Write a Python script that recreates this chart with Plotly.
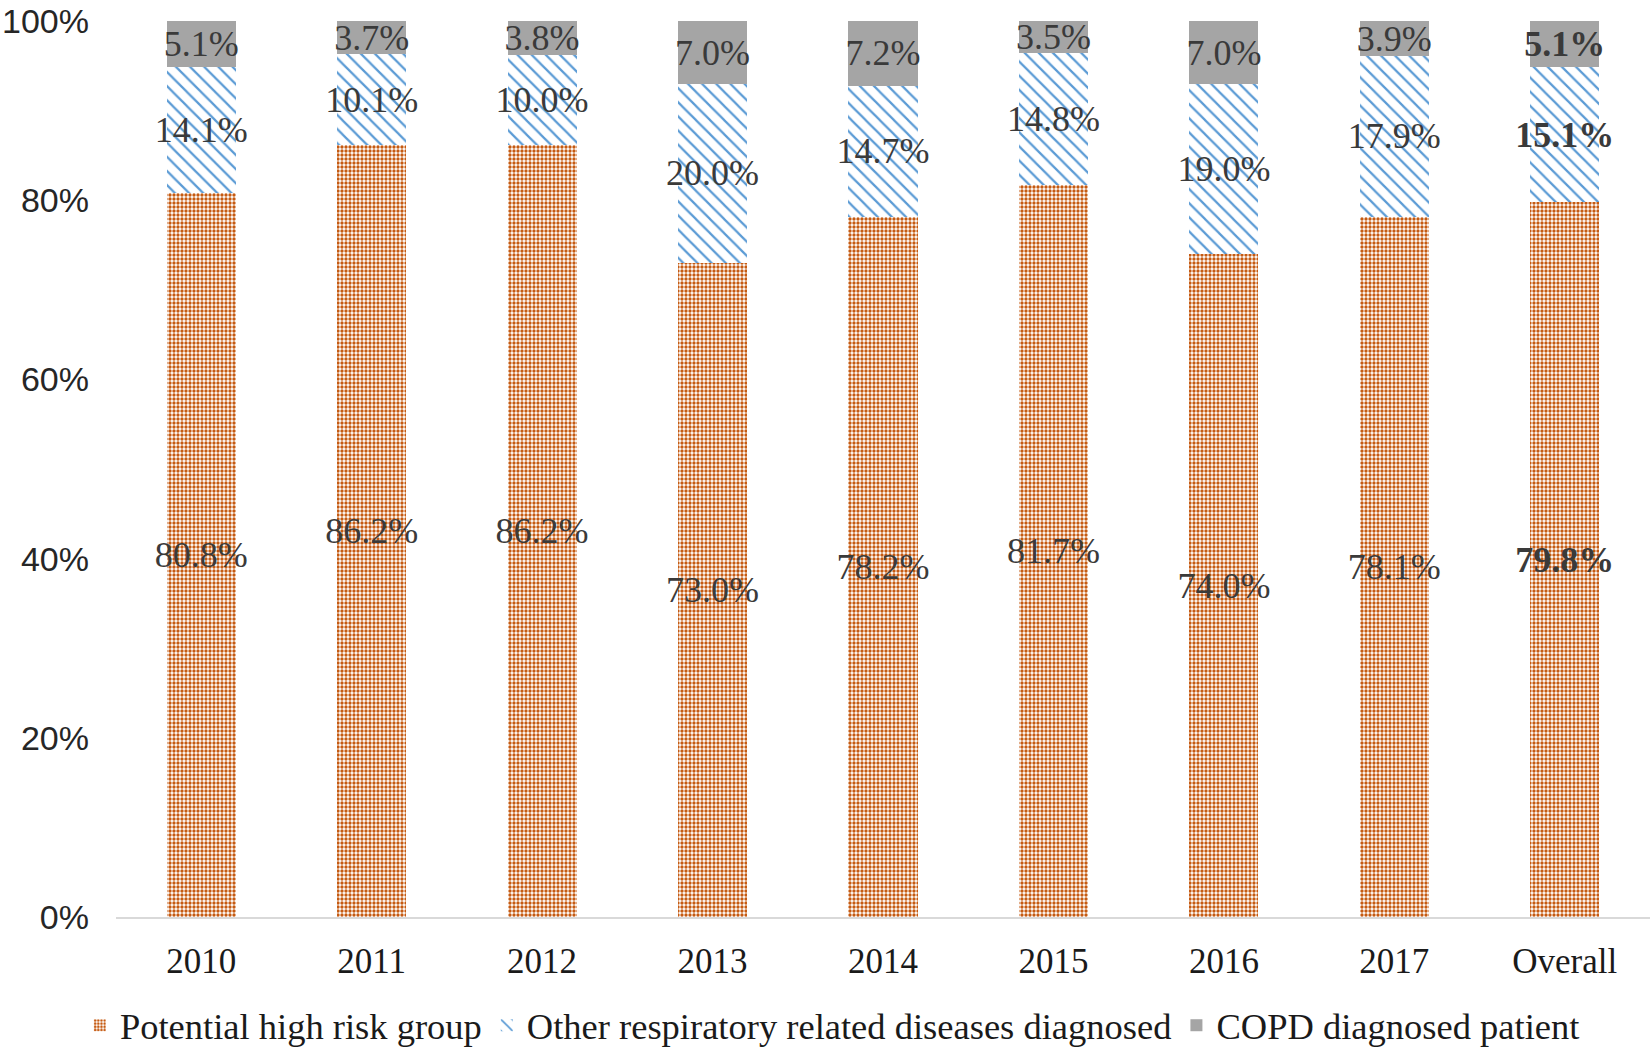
import plotly.graph_objects as go

categories = ["2010", "2011", "2012", "2013", "2014", "2015", "2016", "2017", "Overall"]
high_risk = [80.8, 86.2, 86.2, 73.0, 78.2, 81.7, 74.0, 78.1, 79.8]
other_resp = [14.1, 10.1, 10.0, 20.0, 14.7, 14.8, 19.0, 17.9, 15.1]
copd = [5.1, 3.7, 3.8, 7.0, 7.2, 3.5, 7.0, 3.9, 5.1]
y_ticks = [0, 20, 40, 60, 80, 100]
y_tick_labels = ["0%", "20%", "40%", "60%", "80%", "100%"]

series = [
    ("Potential high risk group", high_risk,
     dict(color="white", pattern=dict(shape=".", fgcolor="#C55A11", bgcolor="white", size=4,
                                       solidity=0.55, fgopacity=1, fillmode="replace"))),
    ("Other respiratory related diseases diagnosed", other_resp,
     dict(color="white", pattern=dict(shape="\\", fgcolor="#5B9BD5", bgcolor="white", size=10,
                                       solidity=0.22, fgopacity=1, fillmode="replace"))),
    ("COPD diagnosed patient", copd, dict(color="#A5A5A5")),
]

fig = go.Figure()
for name, vals, marker in series:
    texts = []
    for c, v in zip(categories, vals):
        s = f"{v:.1f}%"
        texts.append(f"<b>{s}</b>" if c == "Overall" else s)
    fig.add_trace(go.Bar(
        name=name, x=categories, y=vals, marker=marker, marker_line_width=0,
        text=texts, texttemplate="%{text}", textposition="inside", insidetextanchor="middle",
        textangle=0, constraintext="none",
        textfont=dict(family="Liberation Serif", size=36, color="#3a3a3a"),
        hoverinfo="skip",
    ))

fig.update_layout(
    width=1652, height=1056,
    barmode="stack", barnorm="percent", bargap=0.595,
    paper_bgcolor="white", plot_bgcolor="white",
    margin=dict(l=115, r=2, t=12, b=139),
    showlegend=True,
    legend=dict(orientation="h", x=0.467, xanchor="center", xref="paper",
                y=-0.009, yanchor="bottom", yref="container",
                traceorder="normal",
                font=dict(family="Liberation Serif", size=36.5, color="#1a1a1a"),
                itemwidth=30, tracegroupgap=0, bgcolor="rgba(0,0,0,0)"),
    xaxis=dict(showgrid=False, showline=True, linecolor="#D9D9D9", linewidth=2, ticks="",
               tickfont=dict(family="Liberation Serif", size=35, color="#1a1a1a"),
               ticklabelstandoff=12, zeroline=False),
    yaxis=dict(range=[0, 100.02], tickvals=y_ticks, ticktext=y_tick_labels, showgrid=False,
               showline=False, zeroline=False, ticks="", ticklabeloverflow="allow",
               tickfont=dict(family="Liberation Sans", size=34, color="#262626"),
               ticklabelstandoff=26),
)

fig.write_html("out.html", config={"displayModeBar": False},
               post_script="document.body.style.margin='0px';")
